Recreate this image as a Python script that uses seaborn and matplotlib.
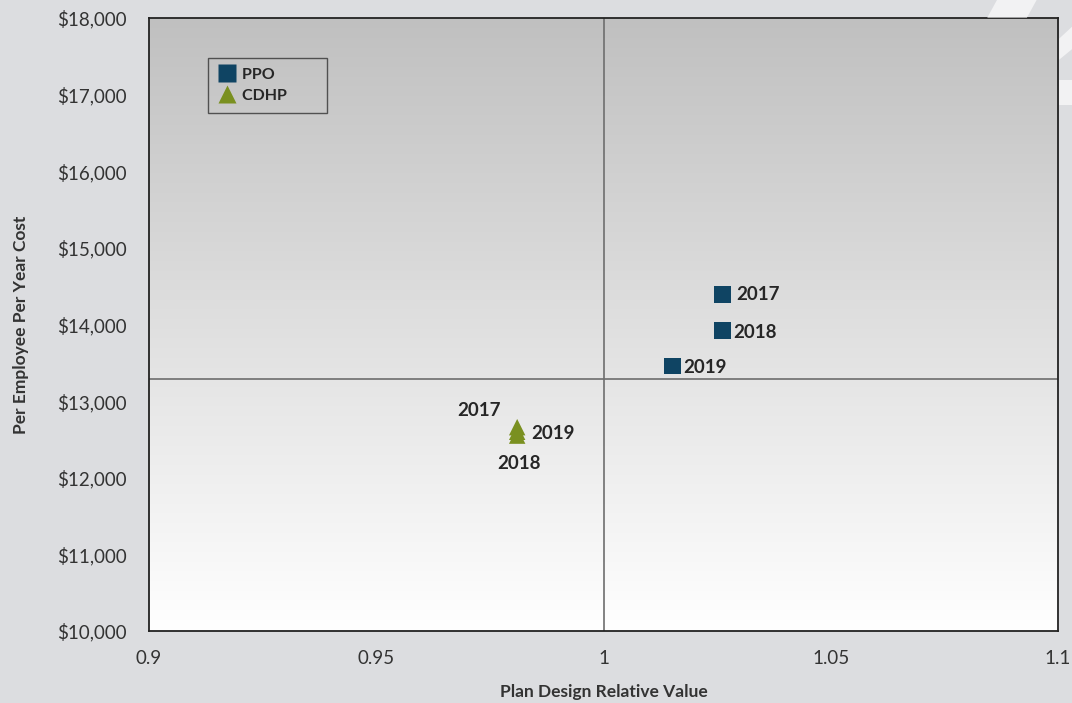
import numpy as np
import pandas as pd
import matplotlib.pyplot as plt
import seaborn as sns
from matplotlib.patches import Polygon
from matplotlib.colors import LinearSegmentedColormap

# Dados
plans = ["PPO", "PPO", "PPO", "CDHP", "CDHP", "CDHP"]
years = ["2017", "2018", "2019", "2017", "2018", "2019"]
relative_value = [1.0262, 1.0262, 1.0152, 0.981, 0.981, 0.981]
cost = [14390, 13920, 13460, 12660, 12550, 12600]

x_ticks = [0.9, 0.95, 1.0, 1.05, 1.1]
x_tick_labels = ["0.9", "0.95", "1", "1.05", "1.1"]
y_ticks = [10000, 11000, 12000, 13000, 14000, 15000, 16000, 17000, 18000]
h_line = 13290
v_line = 1.0

df = pd.DataFrame({"Plan": plans, "Year": years, "Value": relative_value, "Cost": cost})

sns.set_style("white")
plt.rcParams["font.family"] = ["Lato", "DejaVu Sans"]

fig = plt.figure(figsize=(10.72, 7.03), dpi=100, facecolor="#dcdde0")
ax = fig.add_axes([0.139, 0.1024, 0.848, 0.872])

# Faixas brancas decorativas no fundo
stripe = "#f2f2f3"
fig.patches.append(Polygon([[0.930, 1.0], [0.967, 1.0], [0.958, 0.975], [0.921, 0.975]],
                           closed=True, transform=fig.transFigure, facecolor=stripe,
                           edgecolor="none", zorder=0))
fig.patches.append(Polygon([[0.988, 0.915], [1.0, 0.93], [1.0, 0.962], [0.988, 0.945]],
                           closed=True, transform=fig.transFigure, facecolor=stripe,
                           edgecolor="none", zorder=0))
fig.patches.append(Polygon([[0.988, 0.851], [1.0, 0.851], [1.0, 0.886], [0.988, 0.886]],
                           closed=True, transform=fig.transFigure, facecolor=stripe,
                           edgecolor="none", zorder=0))

# Gradiente do fundo do gráfico
grad = np.linspace(0, 1, 256).reshape(-1, 1)
ax.imshow(grad, extent=[0.9, 1.1, 10000, 18000], aspect="auto", origin="upper",
          cmap=LinearSegmentedColormap.from_list("bg", ["#c0c0c0", "#ffffff"]), zorder=0)

ax.axhline(h_line, color="#6e6e6e", lw=1.2, zorder=1)
ax.axvline(v_line, color="#6e6e6e", lw=1.2, zorder=1)

sns.scatterplot(data=df, x="Value", y="Cost", hue="Plan", style="Plan",
                palette={"PPO": "#0f4463", "CDHP": "#7a9020"},
                markers={"PPO": "s", "CDHP": "^"}, s=140, edgecolor="none",
                ax=ax, zorder=3)

# Rótulos dos pontos
offsets = {("PPO", "2017"): (10, 0, "left", "center"),
           ("PPO", "2018"): (8, -1, "left", "center"),
           ("PPO", "2019"): (8, -1, "left", "center"),
           ("CDHP", "2017"): (-12, 12, "right", "center"),
           ("CDHP", "2019"): (10, -1, "left", "center"),
           ("CDHP", "2018"): (1, -20, "center", "center")}
for p, yr, xv, yv in zip(plans, years, relative_value, cost):
    dx, dy, ha, va = offsets[(p, yr)]
    ax.annotate(yr, (xv, yv), xytext=(dx, dy), textcoords="offset points",
                ha=ha, va=va, fontsize=13.5, fontweight="bold", color="#262626")

ax.set_xlim(0.9, 1.1)
ax.set_ylim(10000, 18000)
ax.set_xticks(x_ticks)
ax.set_xticklabels(x_tick_labels)
ax.set_yticks(y_ticks)
ax.set_yticklabels([f"${v:,.0f}" for v in y_ticks])
ax.tick_params(labelsize=13.5, colors="#333333", length=0)
ax.tick_params(axis="x", pad=14)
ax.tick_params(axis="y", pad=16)
ax.set_xlabel("Plan Design Relative Value", fontsize=12.5, fontweight="bold", color="#333333", labelpad=12)
ax.set_ylabel("Per Employee Per Year Cost", fontsize=12.5, fontweight="bold", color="#333333", labelpad=20)
for s in ax.spines.values():
    s.set_color("#222222")
    s.set_linewidth(1.3)
    s.set_visible(True)

leg = ax.legend(loc="upper left", bbox_to_anchor=(0.065, 0.935), frameon=True, fancybox=False,
                prop={"weight": "bold", "size": 11.5}, handletextpad=0.3, borderpad=0.6,
                labelspacing=0.45, handlelength=1.2, markerscale=1.05, borderaxespad=0)
leg.get_frame().set_edgecolor("#333333")
leg.get_frame().set_facecolor("none")
leg.get_frame().set_linewidth(1.0)
for t in leg.get_texts():
    t.set_color("#262626")
    t.set_text(t.get_text() + "        ")

plt.savefig("out.png", dpi=100, facecolor=fig.get_facecolor())
